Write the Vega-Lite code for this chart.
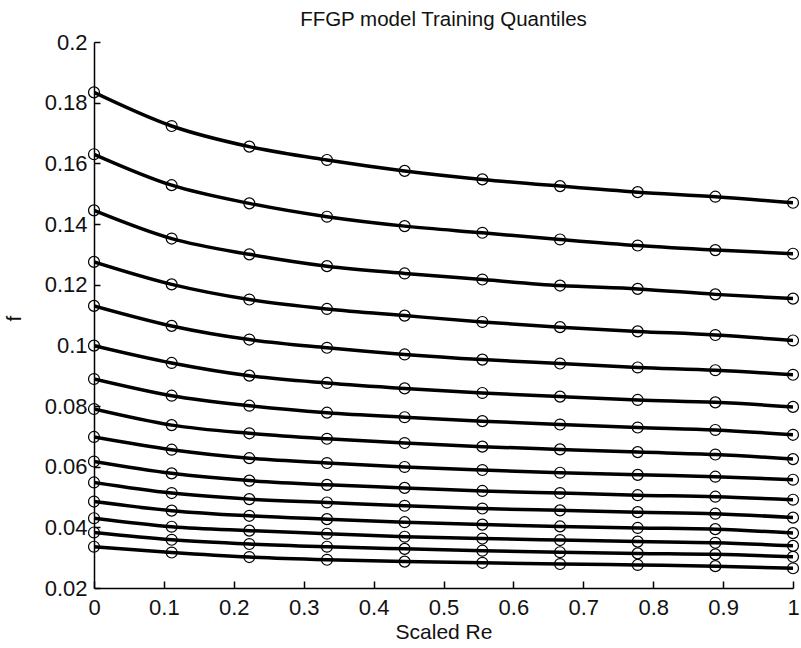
{
  "$schema": "https://vega.github.io/schema/vega-lite/v6.json",
  "width": 699,
  "height": 546,
  "autosize": {"type": "none"},
  "padding": {"left": 94, "top": 42, "right": 8, "bottom": 60},
  "background": "white",
  "config": {
    "view": {"stroke": null},
    "font": "Liberation Sans"
  },
  "title": {
    "text": "FFGP model Training Quantiles",
    "fontSize": 20.5,
    "fontWeight": "normal",
    "font": "Liberation Sans",
    "color": "#111",
    "anchor": "middle",
    "baseline": "bottom",
    "offset": -19
  },
  "data": {
    "values": [
      {"q": 1, "x": 0, "f": 0.1834}, {"q": 1, "x": 0.1111, "f": 0.1723}, {"q": 1, "x": 0.2222, "f": 0.1655}, {"q": 1, "x": 0.3333, "f": 0.1611}, {"q": 1, "x": 0.4444, "f": 0.1575}, {"q": 1, "x": 0.5556, "f": 0.1547}, {"q": 1, "x": 0.6667, "f": 0.1525}, {"q": 1, "x": 0.7778, "f": 0.1505}, {"q": 1, "x": 0.8889, "f": 0.1490}, {"q": 1, "x": 1, "f": 0.1470},
      {"q": 2, "x": 0, "f": 0.1630}, {"q": 2, "x": 0.1111, "f": 0.1528}, {"q": 2, "x": 0.2222, "f": 0.1468}, {"q": 2, "x": 0.3333, "f": 0.1424}, {"q": 2, "x": 0.4444, "f": 0.1393}, {"q": 2, "x": 0.5556, "f": 0.1371}, {"q": 2, "x": 0.6667, "f": 0.1349}, {"q": 2, "x": 0.7778, "f": 0.1329}, {"q": 2, "x": 0.8889, "f": 0.1314}, {"q": 2, "x": 1, "f": 0.1302},
      {"q": 3, "x": 0, "f": 0.1445}, {"q": 3, "x": 0.1111, "f": 0.1352}, {"q": 3, "x": 0.2222, "f": 0.1300}, {"q": 3, "x": 0.3333, "f": 0.1261}, {"q": 3, "x": 0.4444, "f": 0.1237}, {"q": 3, "x": 0.5556, "f": 0.1217}, {"q": 3, "x": 0.6667, "f": 0.1197}, {"q": 3, "x": 0.7778, "f": 0.1186}, {"q": 3, "x": 0.8889, "f": 0.1168}, {"q": 3, "x": 1, "f": 0.1154},
      {"q": 4, "x": 0, "f": 0.1275}, {"q": 4, "x": 0.1111, "f": 0.1201}, {"q": 4, "x": 0.2222, "f": 0.1151}, {"q": 4, "x": 0.3333, "f": 0.1120}, {"q": 4, "x": 0.4444, "f": 0.1098}, {"q": 4, "x": 0.5556, "f": 0.1077}, {"q": 4, "x": 0.6667, "f": 0.1060}, {"q": 4, "x": 0.7778, "f": 0.1046}, {"q": 4, "x": 0.8889, "f": 0.1034}, {"q": 4, "x": 1, "f": 0.1016},
      {"q": 5, "x": 0, "f": 0.1130}, {"q": 5, "x": 0.1111, "f": 0.1064}, {"q": 5, "x": 0.2222, "f": 0.1019}, {"q": 5, "x": 0.3333, "f": 0.0992}, {"q": 5, "x": 0.4444, "f": 0.0970}, {"q": 5, "x": 0.5556, "f": 0.0953}, {"q": 5, "x": 0.6667, "f": 0.0940}, {"q": 5, "x": 0.7778, "f": 0.0927}, {"q": 5, "x": 0.8889, "f": 0.0918}, {"q": 5, "x": 1, "f": 0.0903},
      {"q": 6, "x": 0, "f": 0.0999}, {"q": 6, "x": 0.1111, "f": 0.0942}, {"q": 6, "x": 0.2222, "f": 0.0900}, {"q": 6, "x": 0.3333, "f": 0.0876}, {"q": 6, "x": 0.4444, "f": 0.0858}, {"q": 6, "x": 0.5556, "f": 0.0843}, {"q": 6, "x": 0.6667, "f": 0.0831}, {"q": 6, "x": 0.7778, "f": 0.0820}, {"q": 6, "x": 0.8889, "f": 0.0812}, {"q": 6, "x": 1, "f": 0.0797},
      {"q": 7, "x": 0, "f": 0.0889}, {"q": 7, "x": 0.1111, "f": 0.0834}, {"q": 7, "x": 0.2222, "f": 0.0801}, {"q": 7, "x": 0.3333, "f": 0.0778}, {"q": 7, "x": 0.4444, "f": 0.0763}, {"q": 7, "x": 0.5556, "f": 0.0750}, {"q": 7, "x": 0.6667, "f": 0.0739}, {"q": 7, "x": 0.7778, "f": 0.0729}, {"q": 7, "x": 0.8889, "f": 0.0721}, {"q": 7, "x": 1, "f": 0.0705},
      {"q": 8, "x": 0, "f": 0.0790}, {"q": 8, "x": 0.1111, "f": 0.0737}, {"q": 8, "x": 0.2222, "f": 0.0710}, {"q": 8, "x": 0.3333, "f": 0.0692}, {"q": 8, "x": 0.4444, "f": 0.0678}, {"q": 8, "x": 0.5556, "f": 0.0666}, {"q": 8, "x": 0.6667, "f": 0.0657}, {"q": 8, "x": 0.7778, "f": 0.0648}, {"q": 8, "x": 0.8889, "f": 0.0640}, {"q": 8, "x": 1, "f": 0.0625},
      {"q": 9, "x": 0, "f": 0.0698}, {"q": 9, "x": 0.1111, "f": 0.0656}, {"q": 9, "x": 0.2222, "f": 0.0628}, {"q": 9, "x": 0.3333, "f": 0.0612}, {"q": 9, "x": 0.4444, "f": 0.0599}, {"q": 9, "x": 0.5556, "f": 0.0589}, {"q": 9, "x": 0.6667, "f": 0.0580}, {"q": 9, "x": 0.7778, "f": 0.0573}, {"q": 9, "x": 0.8889, "f": 0.0567}, {"q": 9, "x": 1, "f": 0.0557},
      {"q": 10, "x": 0, "f": 0.0617}, {"q": 10, "x": 0.1111, "f": 0.0578}, {"q": 10, "x": 0.2222, "f": 0.0554}, {"q": 10, "x": 0.3333, "f": 0.0540}, {"q": 10, "x": 0.4444, "f": 0.0530}, {"q": 10, "x": 0.5556, "f": 0.0520}, {"q": 10, "x": 0.6667, "f": 0.0513}, {"q": 10, "x": 0.7778, "f": 0.0506}, {"q": 10, "x": 0.8889, "f": 0.0501}, {"q": 10, "x": 1, "f": 0.0491},
      {"q": 11, "x": 0, "f": 0.0548}, {"q": 11, "x": 0.1111, "f": 0.0513}, {"q": 11, "x": 0.2222, "f": 0.0493}, {"q": 11, "x": 0.3333, "f": 0.0482}, {"q": 11, "x": 0.4444, "f": 0.0471}, {"q": 11, "x": 0.5556, "f": 0.0462}, {"q": 11, "x": 0.6667, "f": 0.0456}, {"q": 11, "x": 0.7778, "f": 0.0450}, {"q": 11, "x": 0.8889, "f": 0.0445}, {"q": 11, "x": 1, "f": 0.0432},
      {"q": 12, "x": 0, "f": 0.0485}, {"q": 12, "x": 0.1111, "f": 0.0455}, {"q": 12, "x": 0.2222, "f": 0.0438}, {"q": 12, "x": 0.3333, "f": 0.0427}, {"q": 12, "x": 0.4444, "f": 0.0417}, {"q": 12, "x": 0.5556, "f": 0.0409}, {"q": 12, "x": 0.6667, "f": 0.0403}, {"q": 12, "x": 0.7778, "f": 0.0398}, {"q": 12, "x": 0.8889, "f": 0.0394}, {"q": 12, "x": 1, "f": 0.0381},
      {"q": 13, "x": 0, "f": 0.0430}, {"q": 13, "x": 0.1111, "f": 0.0402}, {"q": 13, "x": 0.2222, "f": 0.0389}, {"q": 13, "x": 0.3333, "f": 0.0379}, {"q": 13, "x": 0.4444, "f": 0.0369}, {"q": 13, "x": 0.5556, "f": 0.0363}, {"q": 13, "x": 0.6667, "f": 0.0358}, {"q": 13, "x": 0.7778, "f": 0.0353}, {"q": 13, "x": 0.8889, "f": 0.0349}, {"q": 13, "x": 1, "f": 0.0339},
      {"q": 14, "x": 0, "f": 0.0383}, {"q": 14, "x": 0.1111, "f": 0.0359}, {"q": 14, "x": 0.2222, "f": 0.0345}, {"q": 14, "x": 0.3333, "f": 0.0336}, {"q": 14, "x": 0.4444, "f": 0.0329}, {"q": 14, "x": 0.5556, "f": 0.0323}, {"q": 14, "x": 0.6667, "f": 0.0318}, {"q": 14, "x": 0.7778, "f": 0.0314}, {"q": 14, "x": 0.8889, "f": 0.0311}, {"q": 14, "x": 1, "f": 0.0303},
      {"q": 15, "x": 0, "f": 0.0336}, {"q": 15, "x": 0.1111, "f": 0.0317}, {"q": 15, "x": 0.2222, "f": 0.0302}, {"q": 15, "x": 0.3333, "f": 0.0293}, {"q": 15, "x": 0.4444, "f": 0.0287}, {"q": 15, "x": 0.5556, "f": 0.0283}, {"q": 15, "x": 0.6667, "f": 0.0279}, {"q": 15, "x": 0.7778, "f": 0.0276}, {"q": 15, "x": 0.8889, "f": 0.0272}, {"q": 15, "x": 1, "f": 0.0265}
    ]
  },
  "encoding": {
    "x": {
      "field": "x",
      "type": "quantitative",
      "scale": {"domain": [0, 1], "nice": false, "zero": false},
      "axis": {
        "title": "Scaled Re",
        "values": [0, 0.1, 0.2, 0.3, 0.4, 0.5, 0.6, 0.7, 0.8, 0.9, 1],
        "format": "~g",
        "grid": false,
        "domainColor": "#000",
        "domainWidth": 1.5,
        "tickColor": "#000",
        "tickWidth": 1.5,
        "tickSize": -7,
        "labelPadding": 16,
        "labelFontSize": 22,
        "labelColor": "#111",
        "labelFont": "Liberation Sans",
        "labelFlush": false,
        "titleFontSize": 21,
        "titleFontWeight": "normal",
        "titleFont": "Liberation Sans",
        "titleColor": "#111",
        "titlePadding": 3
      }
    },
    "y": {
      "field": "f",
      "type": "quantitative",
      "scale": {"domain": [0.02, 0.2], "nice": false, "zero": false},
      "axis": {
        "title": "f",
        "values": [0.02, 0.04, 0.06, 0.08, 0.1, 0.12, 0.14, 0.16, 0.18, 0.2],
        "format": ".2~f",
        "grid": false,
        "domainColor": "#000",
        "domainWidth": 1.5,
        "tickColor": "#000",
        "tickWidth": 1.5,
        "tickSize": -6,
        "labelPadding": 13,
        "labelFontSize": 22,
        "labelColor": "#111",
        "labelFont": "Liberation Sans",
        "labelFlush": false,
        "titleFontSize": 21,
        "titleFontWeight": "normal",
        "titleFont": "Liberation Sans",
        "titleColor": "#111",
        "titleX": -80,
        "titleY": 276,
        "titleAlign": "center",
        "titleBaseline": "middle"
      }
    }
  },
  "layer": [
    {
      "mark": {"type": "line", "color": "#000", "strokeWidth": 3.5, "interpolate": "monotone", "clip": true},
      "encoding": {"detail": {"field": "q", "type": "nominal"}}
    },
    {
      "mark": {"type": "point", "shape": "circle", "filled": false, "color": "#000", "strokeWidth": 1.2, "size": 120, "opacity": 1}
    }
  ]
}
